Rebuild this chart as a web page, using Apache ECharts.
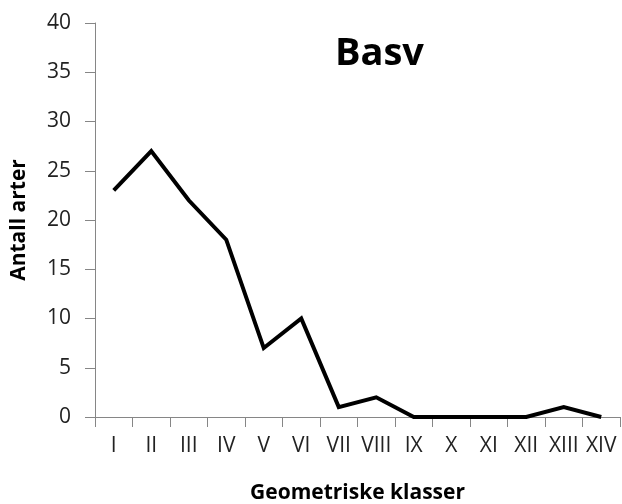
<!DOCTYPE html>
<html>
<head>
<meta charset="utf-8">
<script src="https://cdn.jsdelivr.net/npm/echarts@6/dist/echarts.min.js"></script>
<style>
html,body{margin:0;padding:0;background:#fff;}
#main{width:622px;height:504px;}
</style>
</head>
<body>
<div id="main"></div>
<script>
var categories = ['I','II','III','IV','V','VI','VII','VIII','IX','X','XI','XII','XIII','XIV'];
var antallArter = [23,27,22,18,7,10,1,2,0,0,0,0,1,0];
var yTicks = {min:0, max:40, interval:5};

var chart = echarts.init(document.getElementById('main'));
var font = '"Open Sans", sans-serif';
var option = {
    animation:false,
    title:{
        text:'Basv',
        left:330,
        top:30,
        textStyle:{fontFamily:font,fontSize:38,fontWeight:'bold',color:'#000'}
    },
    grid:{left:95,right:2,top:23,bottom:87,containLabel:false,outerBoundsMode:'none'},
    xAxis:{
        type:'category',
        data:categories,
        boundaryGap:true,
        name:'Geometriske klasser',
        nameLocation:'middle',
        nameGap:66,
        nameTextStyle:{fontFamily:font,fontSize:21,fontWeight:'bold',color:'#000'},
        axisLine:{lineStyle:{color:'#868686',width:1}},
        axisTick:{show:true,length:10,alignWithLabel:false,lineStyle:{color:'#868686'}},
        axisLabel:{fontFamily:font,fontSize:21,color:'#222',margin:19,interval:0}
    },
    yAxis:{
        type:'value',
        min:yTicks.min,
        max:yTicks.max,
        interval:yTicks.interval,
        name:'Antall arter',
        nameLocation:'middle',
        nameGap:65,
        nameTextStyle:{fontFamily:font,fontSize:21,fontWeight:'bold',color:'#000'},
        axisLine:{show:true,lineStyle:{color:'#868686',width:1}},
        axisTick:{show:true,length:10,lineStyle:{color:'#868686'}},
        axisLabel:{fontFamily:font,fontSize:21,color:'#222',margin:24},
        splitLine:{show:false}
    },
    series:[{
        name:'Basv',
        type:'line',
        data:antallArter,
        symbol:'none',
        lineStyle:{color:'#000',width:4,join:'miter'}
    }]
};
chart.setOption(option);
</script>
</body>
</html>
